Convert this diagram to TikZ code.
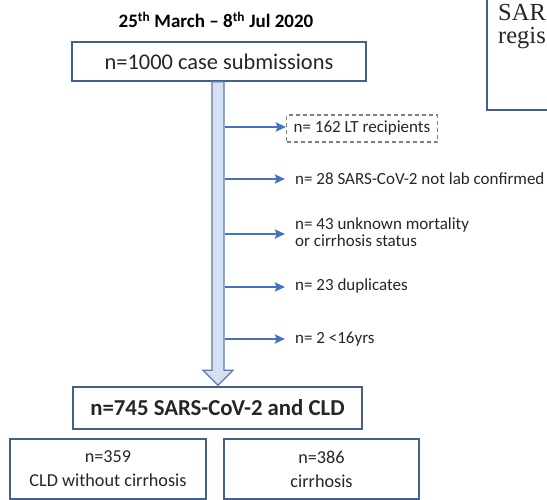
\documentclass[tikz,border=0pt]{standalone}
\usepackage{fontspec}
\setmainfont{Carlito}
\newfontfamily\serifface{Liberation Serif}
\usetikzlibrary{arrows.meta,calc}
\definecolor{boxline}{HTML}{41628F}
\definecolor{arrowblue}{HTML}{4472C4}
\definecolor{shaftfill}{HTML}{D5E0F2}
\definecolor{shaftline}{HTML}{5A7BAA}
\definecolor{dashgray}{HTML}{7F7F7F}
\definecolor{textgray}{HTML}{262626}
\begin{document}
\begin{tikzpicture}[x=1pt,y=-1pt,
  box/.style={draw=boxline,line width=1.4pt,fill=white,inner sep=0pt,align=center,text=textgray},
  side/.style={draw=arrowblue,line width=2.6pt,-{Stealth[length=10pt,width=9pt,inset=1.5pt]}},
  sidetext/.style={anchor=west,inner xsep=10pt,inner ysep=0pt,align=left,text=textgray,font=\fontsize{17}{17}\selectfont},
  dashbox/.style={draw=dashgray,dashed,dash pattern=on 4pt off 3pt,line width=1.3pt,anchor=west,inner xsep=7pt,inner ysep=0pt,minimum height=27pt,text=textgray,font=\fontsize{17}{17}\selectfont},
  shaft/.style={draw=shaftline,line width=1.2pt,fill=shaftfill,line join=miter}
]
\useasboundingbox (0,0) rectangle (547,500);

% top-right partial box
\draw[box] (487,-3) -- (487,110) -- (550,110);
\node[anchor=base west,inner sep=0pt,font=\serifface\fontsize{24.5}{28}\selectfont,text=textgray] (sar) at (498,20.5) {SAR};
\node[anchor=base west,inner sep=0pt,font=\serifface\fontsize{24.5}{28}\selectfont,text=textgray] (regis) at (498,43.5) {regis};

% title
\node[font=\bfseries\fontsize{19}{22}\selectfont,text=black,inner sep=0pt] (title) at (216,20)
  {25\textsuperscript{th} March -- 8\textsuperscript{th} Jul 2020};

% main boxes
\node[box,minimum width=294pt,minimum height=39pt,font=\fontsize{22.4}{26}\selectfont] (b1) at (219,61.5) {n=1000 case submissions};
\node[box,minimum width=289pt,minimum height=42pt,font=\bfseries\fontsize{22.8}{26}\selectfont] (b745) at (217.5,408) {n=745 SARS-CoV-2 and CLD};
\node[box,minimum width=196pt,minimum height=60pt,font=\fontsize{18.2}{24}\selectfont] (b359) at (108,469) {n=359\\CLD without cirrhosis};
\node[box,minimum width=195pt,minimum height=60pt,font=\fontsize{18.2}{24}\selectfont] (b386) at (321.5,469) {n=386\\cirrhosis};

% block arrow (shaft)
\coordinate (st) at ($(b1.south)+(-1,0)$);
\coordinate (sb) at ($(b745.north)+(0.5,-1)$);
\draw[shaft] ($(st)+(-6,0)$) -- ($(sb)+(-6,-15)$) -- ($(sb)+(-15,-15)$) -- (sb)
  -- ($(sb)+(15,-15)$) -- ($(sb)+(6,-15)$) -- ($(st)+(6,0)$) -- cycle;

% exclusion nodes
\node[dashbox] (e1) at (286,128.5) {n= 162 LT recipients};
\node[sidetext] (e2) at (285,179) {n= 28 SARS-CoV-2 not lab confirmed};
\node[sidetext] (e3) at (285,232) {n= 43 unknown mortality\\or cirrhosis status};
\node[sidetext] (e4) at (285,286) {n= 23 duplicates};
\node[sidetext] (e5) at (285,339) {n= 2 <16yrs};

% side arrows
\foreach \i/\y in {1/127,2/179,3/234,4/287,5/339}{
  \coordinate (a\i) at (224.6,\y);
}
\draw[side] (a1) -- (a1 -| e1.west);
\draw[side] (a2) -- (a2 -| e2.west);
\draw[side] (a3) -- (a3 -| e3.west);
\draw[side] (a4) -- (a4 -| e4.west);
\draw[side] (a5) -- (a5 -| e5.west);
\end{tikzpicture}
\end{document}
